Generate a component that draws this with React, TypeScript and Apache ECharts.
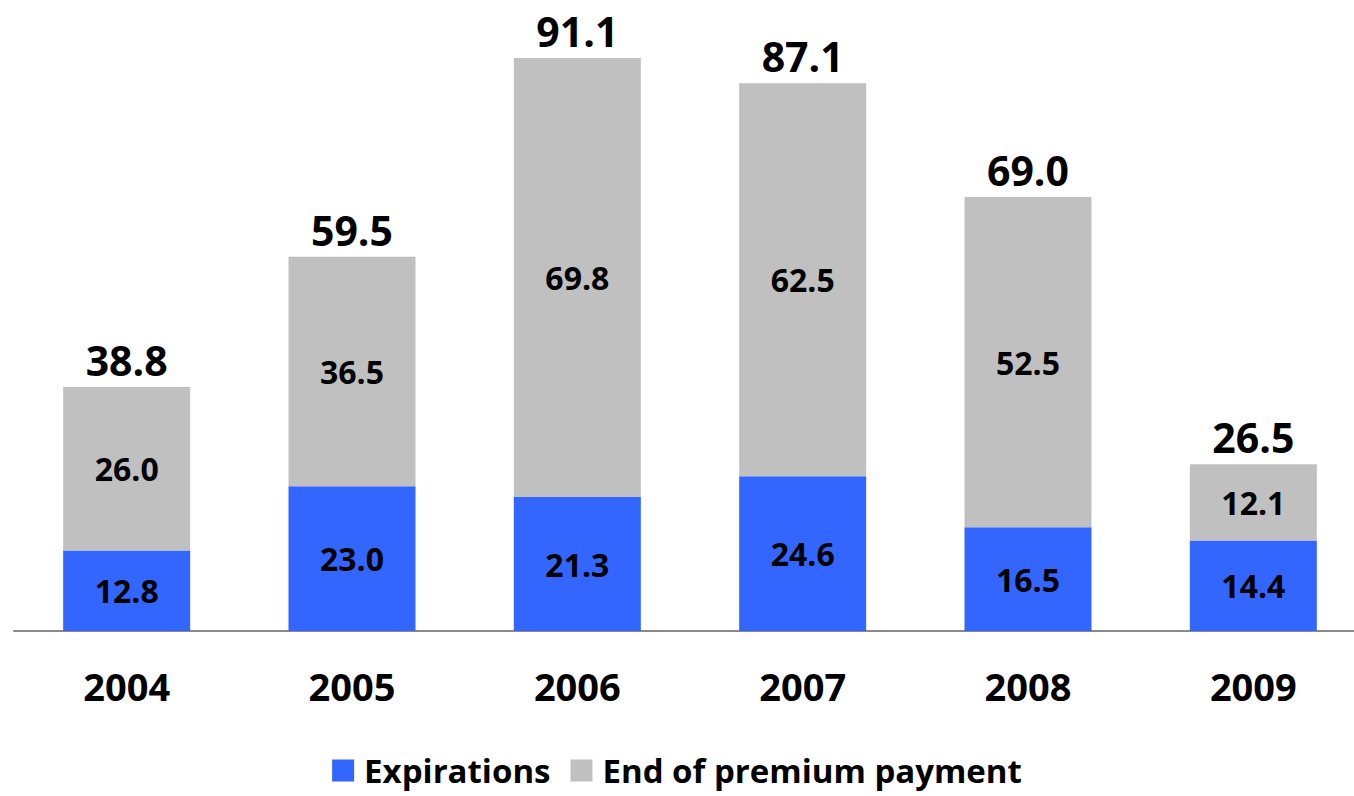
import React, { useEffect, useRef } from "react";
import * as echarts from "echarts";

const years = ["2004", "2005", "2006", "2007", "2008", "2009"];
const expirations = [12.8, 23.0, 21.3, 24.6, 16.5, 14.4];
const endOfPremium = [26.0, 36.5, 69.8, 62.5, 52.5, 12.1];
const totals = [38.8, 59.5, 91.1, 87.1, 69.0, 26.5];

const FONT = "'Open Sans', sans-serif";

export default function App() {
  const ref = useRef<HTMLDivElement>(null);
  useEffect(() => {
    if (!ref.current) return;
    const chart = echarts.init(ref.current, null, { renderer: "svg" });
    chart.setOption({
      animation: false,
      textStyle: { fontFamily: FONT },
      grid: { left: 14, right: -12, top: 2, bottom: 165, outerBoundsMode: "none" },
      legend: {
        data: ["Expirations", "End of premium payment"],
        bottom: 4,
        left: "center",
        itemWidth: 22,
        itemHeight: 22,
        itemGap: 20,
        icon: "rect",
        textStyle: { fontFamily: FONT, fontSize: 33, fontWeight: "bold", color: "#000", padding: [0, 0, 0, 5] },
      },
      xAxis: {
        type: "category",
        data: years,
        axisLine: { lineStyle: { color: "#8a8a8a", width: 2 } },
        axisTick: { show: false },
        axisLabel: { fontFamily: FONT, fontSize: 38, fontWeight: "bold", color: "#000", margin: 36 },
      },
      yAxis: { type: "value", min: 0, max: 100, show: false, splitLine: { show: false } },
      series: [
        {
          name: "Expirations",
          type: "bar",
          stack: "s",
          data: expirations,
          barWidth: 127,
          itemStyle: { color: "#3366FF" },
          label: {
            show: true,
            position: "inside",
            formatter: (p: any) => p.value.toFixed(1),
            fontFamily: FONT,
            fontSize: 32,
            fontWeight: "bold",
            color: "#000",
          },
        },
        {
          name: "End of premium payment",
          type: "bar",
          stack: "s",
          data: endOfPremium,
          barWidth: 127,
          itemStyle: { color: "#C0C0C0" },
          label: {
            show: true,
            position: "inside",
            formatter: (p: any) => p.value.toFixed(1),
            fontFamily: FONT,
            fontSize: 32,
            fontWeight: "bold",
            color: "#000",
          },
        },
        {
          name: "Total",
          type: "scatter",
          data: totals,
          symbol: "circle",
          symbolSize: 1,
          itemStyle: { color: "rgba(0,0,0,0)", opacity: 1 },
          silent: true,
          z: 10,
          label: {
            show: true,
            position: "top",
            distance: 6,
            opacity: 1,
            formatter: (p: any) => p.value.toFixed(1),
            fontFamily: FONT,
            fontSize: 41,
            fontWeight: "bold",
            color: "#000",
          },
        },
      ],
    });
    return () => chart.dispose();
  }, []);
  return (
    <div
      ref={ref}
      style={{ position: "fixed", left: 0, top: 0, width: 1354, height: 796, background: "#fff" }}
    />
  );
}
